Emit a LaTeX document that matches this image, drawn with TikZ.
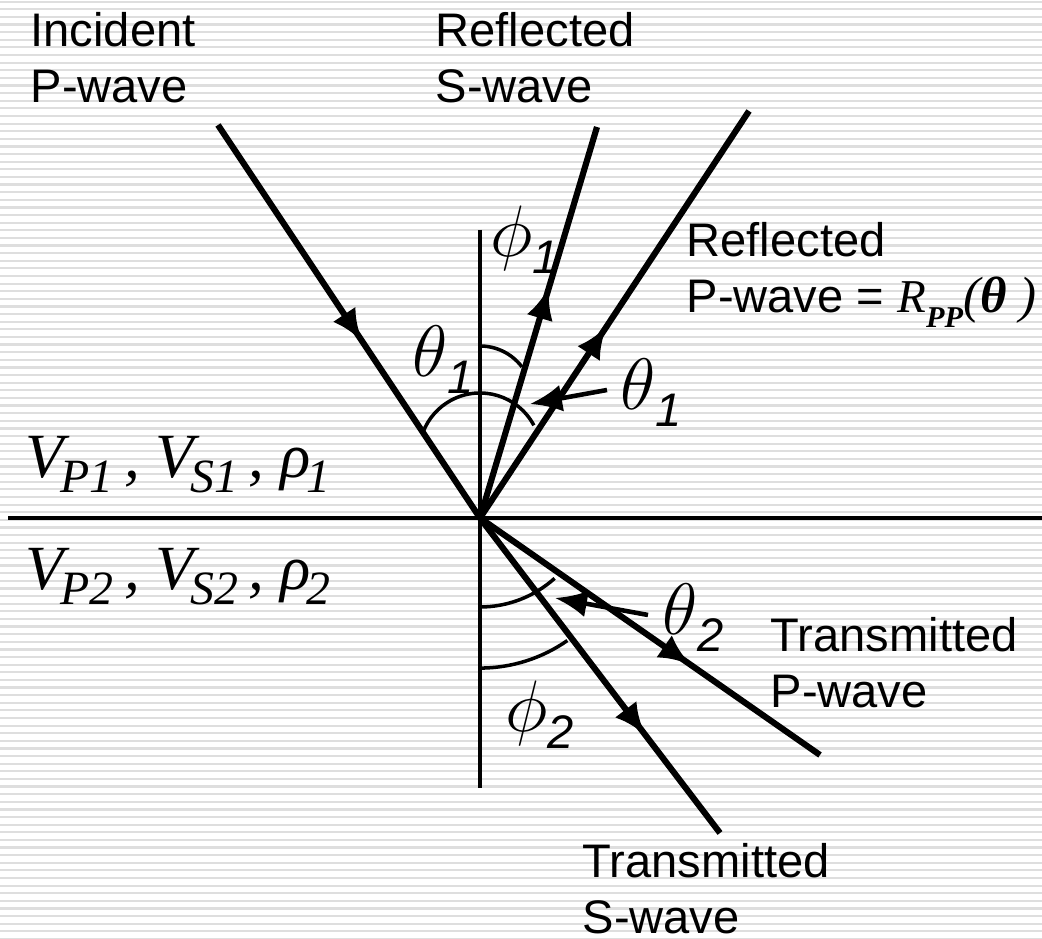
\documentclass[tikz,border=0pt]{standalone}
\usepackage{fontspec}
\setmainfont{Liberation Sans}
\newfontfamily\timesfont{Liberation Serif}
\usetikzlibrary{arrows.meta,decorations.markings}

\newcommand{\gsub}[1]{\raisebox{-0.17cm}{\fontsize{13.4}{16}\selectfont\itshape #1}}
\newcommand{\vsub}[1]{\kern-1pt\raisebox{-0.15cm}{\fontsize{13.6}{16}\selectfont\timesfont\itshape #1}}

\tikzset{
  stripe/.style={black!13, line width=0.022cm},
  ray/.style={line width=1.75pt},
  axis/.style={line width=1.1pt},
  anglearc/.style={line width=1pt},
  pointer/.style={line width=1.3pt, -{Latex[length=3.2mm,width=2.7mm]}},
  midarrow/.style={postaction={decorate}, decoration={markings,
      mark=at position #1 with {\arrow{Latex[length=3.2mm,width=2.7mm]}}}},
  wavelabel/.style={inner sep=0pt, anchor=north west, align=left, font=\fontsize{13.4}{15.9}\selectfont},
  greek/.style={inner sep=0pt, anchor=base west, font=\fontsize{20.5}{24}\selectfont},
  medium/.style={inner sep=0pt, anchor=base west, font=\fontsize{17.9}{21}\selectfont\timesfont\itshape},
}

\begin{document}
\begin{tikzpicture}
  \fill[white] (0,0) rectangle (10.42,9.39);
  \useasboundingbox (0,0) rectangle (10.42,9.39);
  % striped background
  \foreach \k in {0,...,123}
    \draw[stripe] (0,{9.373-0.0762*\k}) -- (10.42,{9.373-0.0762*\k});

  % interface and normal
  \coordinate (O) at (4.80,4.21);
  \coordinate (ifL) at (0.08,4.21);
  \coordinate (ifR) at (10.42,4.21);
  \coordinate (nTop) at (4.80,7.09);
  \coordinate (nBot) at (4.80,1.51);
  \draw[axis] (ifL) -- (ifR);
  \draw[axis] (nTop) -- (nBot);

  % rays
  \coordinate (incS) at (2.18,8.14);
  \coordinate (rsE) at (5.97,8.12);
  \coordinate (rpE) at (7.49,8.28);
  \coordinate (tpE) at (8.20,1.84);
  \coordinate (tsE) at (7.20,1.06);
  \draw[ray, midarrow=0.55] (incS) -- (O);
  \draw[ray, midarrow=0.59] (O) -- (rsE);
  \draw[ray, midarrow=0.47] (O) -- (rpE);
  \draw[ray, midarrow=0.62] (O) -- (tpE);
  \draw[ray, midarrow=0.69] (O) -- (tsE);

  % angle arcs
  \draw[anglearc] (4.80,4.85) ++(28:0.61) arc[start angle=28, end angle=159, radius=0.61];
  \draw[anglearc] (4.80,5.405) ++(37:0.525) arc[start angle=37, end angle=90, radius=0.525];
  \draw[anglearc] (4.80,4.435) ++(-90:1.115) arc[start angle=-90, end angle=-48, radius=1.115];
  \draw[anglearc] (4.80,4.232) ++(-90:1.523) arc[start angle=-90, end angle=-55, radius=1.523];

  % pointers
  \coordinate (pA) at (6.07,5.49);
  \coordinate (pAtip) at (5.30,5.35);
  \coordinate (pB) at (6.48,3.24);
  \coordinate (pBtip) at (5.55,3.41);
  \draw[pointer] (pA) -- (pAtip);
  \draw[pointer] (pB) -- (pBtip);

  % wave labels
  \node[wavelabel] (lblInc) at (0.30,9.27) {Incident\\P-wave};
  \node[wavelabel] (lblRS) at (4.35,9.27) {Reflected\\S-wave};
  \node[wavelabel] (lblRP) at (6.86,7.17) {Reflected\\P-wave = {\timesfont\itshape R}\raisebox{-0.15cm}{\fontsize{8.6}{9}\selectfont\timesfont\bfseries\itshape PP}{\timesfont\itshape\fontsize{14.5}{16}\selectfont (\textbf{θ} )}};
  \node[wavelabel] (lblTP) at (7.70,3.22) {Transmitted\\P-wave};
  \node[wavelabel] (lblTS) at (5.82,0.96) {Transmitted\\S-wave};

  % medium properties
  \node[medium] (lblV1) at (0.25,4.61) {V\vsub{P1}\,, V\vsub{S1}\,, ρ\vsub{1}};
  \node[medium] (lblV2) at (0.25,3.49) {V\vsub{P2}\,, V\vsub{S2}\,, ρ\vsub{2}};

  % angle labels
  \node[greek] (th1l) at (4.12,5.62) {$\theta$\gsub{1}};
  \node[greek] (phi1) at (4.90,6.82) {$\phi$\gsub{1}};
  \node[greek] (th1r) at (6.20,5.29) {$\theta$\gsub{1}};
  \node[greek] (th2) at (6.62,3.04) {$\theta$\gsub{2}};
  \node[greek] (phi2) at (5.05,2.07) {$\phi$\gsub{2}};
\end{tikzpicture}
\end{document}
